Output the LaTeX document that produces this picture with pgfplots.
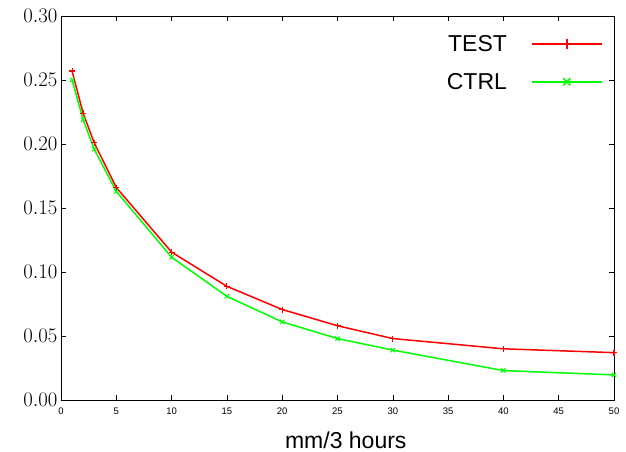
\documentclass[border=0pt]{standalone}
\usepackage{fontspec}
\setmainfont{Liberation Sans}
\usepackage{pgfplots}
\pgfplotsset{compat=1.18}

\begin{document}
\begin{tikzpicture}
% page = 626x452, axis box 553x384 with its corner at the origin
\useasboundingbox (-61pt,-52pt) rectangle (565pt,400pt);
\begin{axis}[
  anchor=south west, at={(0pt,0pt)},
  scale only axis,
  width=553pt, height=384pt,
  xmin=0, xmax=50, ymin=0, ymax=0.30,
  xtick={0,5,...,50},
  ytick={0,0.05,...,0.30},
  tick align=inside,
  major tick length=5pt,
  tick style={black, line width=0.6pt},
  axis line style={black, line width=0.9pt},
  /pgf/number format/assume math mode=true,
  x tick label style={font=\fontsize{9.5}{9.5}\selectfont, yshift=-4pt},
  y tick label style={font=\fontsize{21}{21}\selectfont,
    /pgf/number format/.cd, assume math mode=false, fixed, fixed zerofill, precision=2},
  xlabel={mm/3 hours},
  xlabel style={font=\fontsize{23}{23}\selectfont, at={(rel axis cs:0.515,0)},
    anchor=base, yshift=-48pt},
  legend style={draw=none, fill=none, inner sep=0pt, at={(rel axis cs:0.98,0.955)},
    anchor=north east, font=\fontsize{23}{23}\selectfont, row sep=16pt, column sep=22pt},
  legend cell align=right,
  legend plot pos=right,
  legend image code/.code={
    \draw[#1, mark=none, line width=1.8pt] (0pt,0pt) -- (70pt,0pt);
    \draw[#1, only marks, mark size=5pt, mark options={line width=1.6pt}]
      plot coordinates {(35pt,0pt)};
  },
]
\addplot[red, line width=1.5pt, mark=+, mark size=3pt, mark options={line width=1.1pt}]
  coordinates {(1,0.257) (2,0.224) (3,0.201) (5,0.166) (10,0.1155) (15,0.0888)
               (20,0.0707) (25,0.058) (30,0.048) (40,0.040) (50,0.037)};
\addlegendentry{TEST}
\addplot[green, line width=1.5pt, mark=x, mark size=3pt, mark options={line width=1.1pt}]
  coordinates {(1,0.250) (2,0.219) (3,0.196) (5,0.163) (10,0.1115) (15,0.081)
               (20,0.061) (25,0.048) (30,0.039) (40,0.023) (50,0.0196)};
\addlegendentry{CTRL}
\end{axis}
\end{tikzpicture}
\end{document}
